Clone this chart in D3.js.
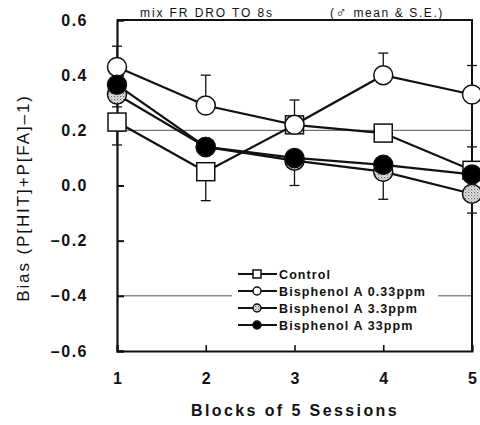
<!DOCTYPE html>
<html>
<head>
<meta charset="utf-8">
<script src="https://cdn.jsdelivr.net/npm/d3@7/dist/d3.min.js"></script>
<style>
  html, body { margin: 0; padding: 0; background: #fff; }
  svg { display: block; }
  text { font-family: "Liberation Sans", Arial, sans-serif; fill: #111; }
</style>
</head>
<body>
<svg id="chart" width="480" height="425"></svg>
<script>
// Blocks of 5 sessions
const blocks = [1, 2, 3, 4, 5];
const seriesNames = ["Control", "Bisphenol A 0.33ppm", "Bisphenol A 3.3ppm", "Bisphenol A 33ppm"];

// Mean bias per block
const controlMean = [0.23, 0.05, 0.22, 0.19, 0.055];
const bpaLowMean  = [0.43, 0.29, 0.22, 0.40, 0.33];
const bpaMidMean  = [0.33, 0.14, 0.09, 0.05, -0.03];
const bpaHighMean = [0.365, 0.14, 0.10, 0.075, 0.04];

// Standard errors, only the drawn half of each bar (0 = not drawn)
const controlSeUp   = [0, 0, 0, 0, 0.085];
const controlSeDown = [0.083, 0.105, 0, 0, 0];
const bpaLowSeUp    = [0.075, 0.11, 0.09, 0.08, 0.105];
const bpaLowSeDown  = [0, 0, 0, 0, 0];
const bpaMidSeUp    = [0, 0, 0, 0, 0];
const bpaMidSeDown  = [0.045, 0, 0.09, 0.10, 0.07];
const bpaHighSeUp   = [0, 0, 0, 0, 0];
const bpaHighSeDown = [0, 0, 0, 0, 0];

const yTicks = [-0.6, -0.4, -0.2, 0.0, 0.2, 0.4, 0.6];
const refLines = [0.2, -0.4];

const series = [
  { name: seriesNames[0], mean: controlMean, up: controlSeUp, down: controlSeDown, shape: "square", fill: "#fff" },
  { name: seriesNames[1], mean: bpaLowMean,  up: bpaLowSeUp,  down: bpaLowSeDown,  shape: "circle", fill: "#fff" },
  { name: seriesNames[2], mean: bpaMidMean,  up: bpaMidSeUp,  down: bpaMidSeDown,  shape: "circle", fill: "url(#stipple)" },
  { name: seriesNames[3], mean: bpaHighMean, up: bpaHighSeUp, down: bpaHighSeDown, shape: "circle", fill: "#000" }
];

const svg = d3.select("#chart");
const plotL = 117, plotR = 472, plotT = 20, plotB = 351;

const x = d3.scaleLinear().domain([1, 5]).range([plotL, plotR]);
const y = d3.scaleLinear().domain([-0.6, 0.6]).range([plotB, plotT]);

// dotted fill for the 3.3ppm markers
const defs = svg.append("defs");
const pat = defs.append("pattern").attr("id", "stipple")
  .attr("width", 3).attr("height", 3).attr("patternUnits", "userSpaceOnUse");
pat.append("rect").attr("width", 3).attr("height", 3).attr("fill", "#e4e4e4");
pat.append("rect").attr("width", 1.2).attr("height", 1.2).attr("fill", "#666");
pat.append("rect").attr("x", 1.5).attr("y", 1.5).attr("width", 1.1).attr("height", 1.1).attr("fill", "#999");

// reference lines
svg.append("g").selectAll("line").data(refLines).join("line")
  .attr("x1", plotL).attr("x2", plotR)
  .attr("y1", d => y(d)).attr("y2", d => y(d))
  .attr("stroke", "#555").attr("stroke-width", 1);

// frame: top and right
svg.append("path")
  .attr("d", `M${plotL},${plotT}H${plotR}V${plotB}`)
  .attr("fill", "none").attr("stroke", "#111").attr("stroke-width", 2);

// left axis, ticks inward
const yAxis = svg.append("g").attr("transform", `translate(${plotL},0)`)
  .call(d3.axisLeft(y).tickValues(yTicks).tickSize(-7).tickPadding(29)
    .tickFormat(d => d3.format(".1f")(d).replace("−", "\u2013")));
yAxis.select(".domain").attr("stroke", "#111").attr("stroke-width", 2.2);
yAxis.selectAll(".tick line").attr("stroke", "#111").attr("stroke-width", 2);
yAxis.selectAll(".tick text")
  .style("font-size", "16px").style("font-weight", "bold").style("letter-spacing", "1.5px")
  .attr("fill", "#111");

// bottom axis, ticks inward
const xAxis = svg.append("g").attr("transform", `translate(0,${plotB})`)
  .call(d3.axisBottom(x).tickValues(blocks).tickSize(-6).tickPadding(22).tickFormat(d3.format("d")));
xAxis.select(".domain").attr("stroke", "#111").attr("stroke-width", 2);
xAxis.selectAll(".tick line").attr("stroke", "#111").attr("stroke-width", 1.6);
xAxis.selectAll(".tick text")
  .style("font-size", "16px").style("font-weight", "bold").attr("fill", "#111");

// axis titles
svg.append("text").attr("x", 295).attr("y", 416).attr("text-anchor", "middle")
  .style("font-size", "16px").style("font-weight", "bold").style("letter-spacing", "2.4px")
  .text("Blocks of 5 Sessions");
svg.append("text").attr("transform", "translate(29,198) rotate(-90)").attr("text-anchor", "middle")
  .style("font-size", "17px").style("letter-spacing", "1.9px")
  .text("Bias (P[HIT]+P[FA]\u20131)");

// header texts above the frame
svg.append("text").attr("x", 140).attr("y", 17)
  .style("font-size", "12px").style("letter-spacing", "1.9px")
  .text("mix FR DRO TO 8s");
const hdr = svg.append("text").attr("x", 330).attr("y", 17)
  .style("font-size", "12px").style("letter-spacing", "1.6px");
hdr.append("tspan").text("(");
hdr.append("tspan").style("font-size", "15px").style("font-weight", "bold").text("\u2642");
hdr.append("tspan").text(" mean & S.E.)");

// error bars
const capW = 5;
const eb = svg.append("g").attr("stroke", "#111").attr("stroke-width", 1.3);
series.forEach(s => {
  blocks.forEach((b, i) => {
    [[s.up[i], 1], [s.down[i], -1]].forEach(([se, dir]) => {
      if (!se) return;
      const y0 = y(s.mean[i]), y1 = y(s.mean[i] + dir * se);
      eb.append("line").attr("x1", x(b)).attr("x2", x(b)).attr("y1", y0).attr("y2", y1);
      eb.append("line").attr("x1", x(b) - capW).attr("x2", x(b) + capW).attr("y1", y1).attr("y2", y1);
    });
  });
});

// series lines
const line = d3.line().x((d, i) => x(blocks[i])).y(d => y(d));
svg.append("g").selectAll("path").data(series).join("path")
  .attr("d", s => line(s.mean))
  .attr("fill", "none").attr("stroke", "#111").attr("stroke-width", 2.2);

// markers
function drawMarker(g, shape, cx, cy, size, fill) {
  if (shape === "square") {
    g.append("rect").attr("x", cx - size).attr("y", cy - size)
      .attr("width", 2 * size).attr("height", 2 * size)
      .attr("fill", fill).attr("stroke", "#111").attr("stroke-width", 1.5);
  } else {
    g.append("circle").attr("cx", cx).attr("cy", cy).attr("r", size)
      .attr("fill", fill).attr("stroke", "#111").attr("stroke-width", 1.5);
  }
}
const mk = svg.append("g");
series.forEach(s => {
  s.mean.forEach((v, i) => {
    drawMarker(mk, s.shape, x(blocks[i]), y(v), s.shape === "square" ? 9 : 9.5, s.fill);
  });
});

// legend
const lg = svg.append("g");
lg.append("rect").attr("x", 232).attr("y", 264).attr("width", 206).attr("height", 70).attr("fill", "#fff");
const rowY = [274, 291, 308, 325];
series.forEach((s, i) => {
  lg.append("line").attr("x1", 238).attr("x2", 277).attr("y1", rowY[i]).attr("y2", rowY[i])
    .attr("stroke", "#111").attr("stroke-width", 2);
  drawMarker(lg, s.shape, 257, rowY[i], 4, s.fill);
  lg.append("text").attr("x", 279).attr("y", rowY[i] + 5)
    .style("font-size", "12.5px").style("font-weight", "bold").style("letter-spacing", "1.1px")
    .text(s.name);
});
</script>
</body>
</html>
